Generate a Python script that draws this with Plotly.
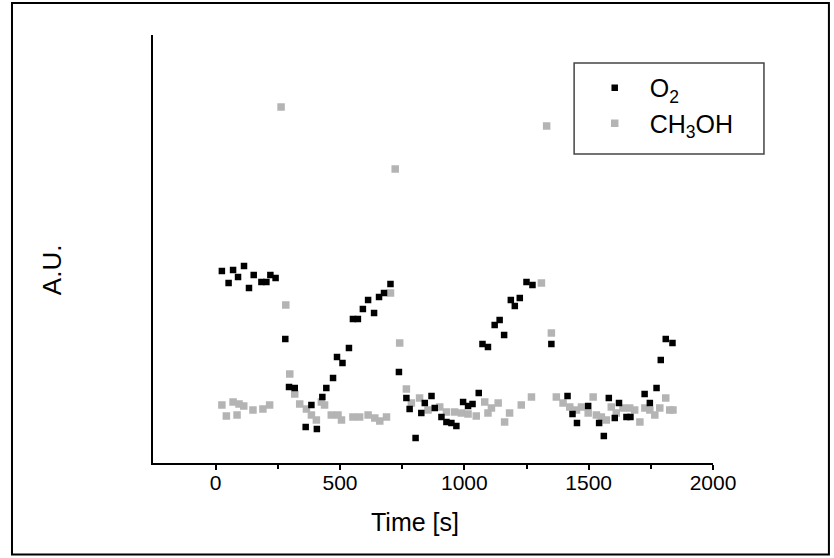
import plotly.graph_objects as go

# O2 signal (black)
o2_time = [25, 52, 70, 90, 114, 134, 153, 184, 204, 220, 241,
           280, 295, 318, 362, 385, 407, 429, 445, 472, 488, 510, 536,
           552, 572, 592, 613, 637, 657, 677, 703,
           737, 767, 780, 804, 827, 841, 868, 881, 908, 928, 948, 968,
           995, 1015, 1033, 1058, 1073, 1095, 1122, 1142, 1160, 1187,
           1203, 1223, 1250, 1274,
           1350, 1415, 1435, 1453, 1498, 1542, 1561, 1581, 1605, 1622,
           1652, 1668, 1725, 1746, 1773, 1790, 1810, 1837]
o2_value = [191, 179, 192, 185, 196, 174, 187, 180, 180, 187, 184,
            123, 75, 74, 35, 57, 33, 65, 74, 84, 105, 99, 114,
            143, 143, 153, 162, 149, 165, 169, 178,
            90, 64, 53, 24, 49, 59, 66, 54, 45, 40, 39, 36,
            60, 56, 58, 69, 118, 115, 137, 142, 127, 162,
            156, 164, 180, 177,
            118, 66, 48, 39, 56, 39, 26, 64, 44, 59,
            45, 45, 68, 59, 74, 102, 123, 119]

# CH3OH signal (grey)
meoh_time = [25, 43, 70, 86, 94, 113, 150, 190, 217,
             263, 282, 298, 318, 338, 365, 385, 405, 425, 438, 465, 492,
             506, 552, 579, 613, 640, 660, 687, 703,
             722, 740, 767, 787, 820, 854, 901, 928, 961, 988, 1015, 1048,
             1082, 1095, 1109, 1136, 1162, 1182, 1229, 1270, 1310,
             1331, 1350, 1370, 1397, 1424, 1451, 1471, 1498, 1518, 1531,
             1551, 1571, 1591, 1611, 1638, 1665, 1685, 1706, 1726, 1746,
             1766, 1786, 1810, 1826, 1839]
meoh_value = [57, 46, 60, 47, 58, 56, 52, 53, 57,
              355, 157, 88, 68, 58, 53, 47, 42, 60, 57, 47, 47,
              42, 45, 45, 47, 44, 41, 45, 169,
              293, 119, 73, 59, 64, 52, 55, 50, 50, 49, 48, 46,
              60, 49, 54, 59, 40, 49, 57, 65, 179,
              336, 129, 65, 59, 55, 52, 55, 49, 65, 47,
              45, 42, 55, 49, 54, 54, 52, 40, 54, 52,
              47, 54, 64, 52, 52]

x_ticks = [0, 500, 1000, 1500, 2000]
x_tick_labels = ["0", "500", "1000", "1500", "2000"]
x_title = "Time [s]"
y_title = "A.U."

FONT = "Liberation Sans, Arial, sans-serif"

fig = go.Figure()
fig.add_trace(go.Scatter(
    x=meoh_time, y=meoh_value, mode="markers", name="CH<sub>3</sub>OH",
    marker=dict(symbol="square", size=7.5, color="#b4b4b4", line=dict(width=0)),
    legendrank=2))
fig.add_trace(go.Scatter(
    x=o2_time, y=o2_value, mode="markers", name="O<sub>2</sub>",
    marker=dict(symbol="square", size=6.5, color="#000000", line=dict(width=0)),
    legendrank=1))

fig.update_layout(
    width=834, height=558,
    margin=dict(l=153, r=121, t=35, b=95),
    paper_bgcolor="white", plot_bgcolor="white",
    font=dict(family=FONT, color="#000000", size=20),
    showlegend=True,
    legend=dict(x=0.762, y=0.93, xanchor="left", yanchor="top",
                bgcolor="rgba(0,0,0,0)", borderwidth=0,
                font=dict(size=25, family=FONT), itemwidth=60,
                tracegroupgap=4),
    xaxis=dict(range=[-252, 2000], tickvals=x_ticks, ticktext=x_tick_labels,
               showgrid=False, zeroline=False, showline=True,
               linecolor="#000000", linewidth=2, ticks="outside", ticklen=5,
               tickwidth=1.5, tickcolor="#000000",
               tickfont=dict(size=21, family=FONT), ticklabelstandoff=-5,
               minor=dict(tickvals=[250, 750, 1250, 1750], ticks="outside",
                          ticklen=4, tickwidth=1.5, tickcolor="#000000")),
    yaxis=dict(range=[-1, 427], showgrid=False, zeroline=False,
               showline=True, linecolor="#000000", linewidth=2,
               showticklabels=False, ticks=""),
    annotations=[
        dict(text=x_title, xref="paper", yref="paper", x=0.468, y=-0.138,
             xanchor="center", yanchor="middle", showarrow=False,
             font=dict(size=25, family=FONT, color="#000000")),
        dict(text=y_title, xref="paper", yref="paper", x=-0.180, y=0.451,
             xanchor="center", yanchor="middle", showarrow=False,
             textangle=-90,
             font=dict(size=26, family=FONT, color="#000000")),
    ],
    shapes=[
        dict(type="rect", xref="paper", yref="paper",
             x0=-0.2518, x1=1.207, y0=-0.214, y1=1.0748,
             line=dict(color="#000000", width=2), fillcolor="rgba(0,0,0,0)"),
        dict(type="rect", xref="paper", yref="paper",
             x0=0.752, x1=1.091, y0=0.722, y1=0.9346,
             line=dict(color="#444444", width=1.5), fillcolor="rgba(0,0,0,0)"),
    ],
)

fig.write_html("out.html",
               config={"displayModeBar": False},
               post_script="document.body.style.margin='0';"
                           "document.body.style.overflow='hidden';")
